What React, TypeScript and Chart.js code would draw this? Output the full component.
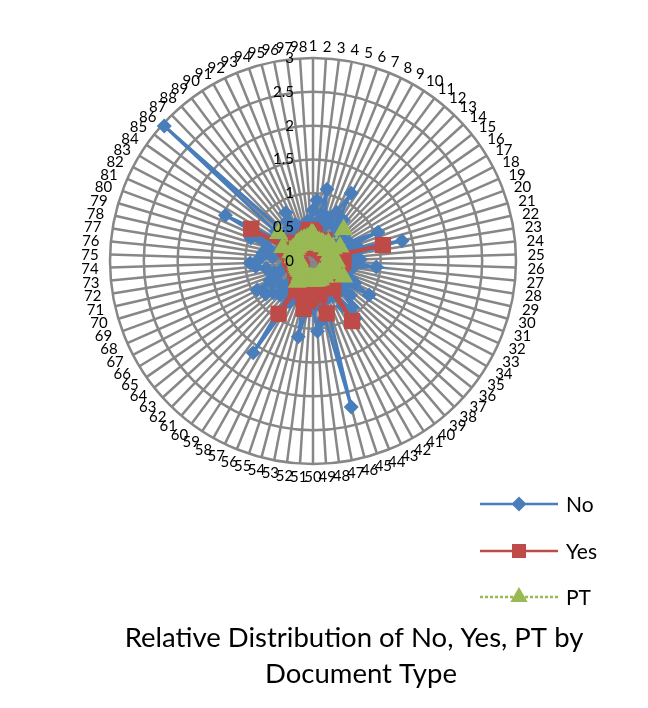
import React, { useEffect, useRef } from 'react';
import { Chart, registerables } from 'chart.js';

Chart.register(...registerables);

const categories = [
  '1', '2', '3', '4', '5', '6', '7', '8', '9', '10',
  '11', '12', '13', '14', '15', '16', '17', '18', '19', '20',
  '21', '22', '23', '24', '25', '26', '27', '28', '29', '30',
  '31', '32', '33', '34', '35', '36', '37', '38', '39', '40',
  '41', '42', '43', '44', '45', '46', '47', '48', '49', '50',
  '51', '52', '53', '54', '55', '56', '57', '58', '59', '60',
  '61', '62', '63', '64', '65', '66', '67', '68', '69', '70',
  '71', '72', '73', '74', '75', '76', '77', '78', '79', '80',
  '81', '82', '83', '84', '85', '86', '87', '88', '89', '90',
  '91', '92', '93', '94', '95', '96', '97', '98',
];

const noValues = [
  0.75, 0.9, 0.6, 1.08, 0.7, 0.55, 0.65, 0.8, 1.15, 0.6,
  0.75, 0.5, 0.62, 0.45, 0.55, 0.4, 0.5, 0.6, 1.05, 0.5,
  0.7, 1.35, 0.6, 0.45, 0.7, 0.55, 0.94, 0.6, 0.45, 0.5,
  0.4, 0.55, 0.7, 0.97, 0.6, 0.55, 0.75, 0.6, 0.9, 1.05,
  0.8, 0.6, 0.5, 0.45, 0.6, 2.23, 0.7, 0.9, 1.04, 0.7,
  0.6, 0.75, 1.14, 0.6, 0.5, 0.6, 0.45, 0.7, 1.62, 0.6,
  0.55, 0.7, 0.5, 0.75, 0.85, 0.6, 0.93, 0.7, 0.55, 0.6,
  0.45, 0.7, 0.85, 0.93, 0.8, 0.6, 0.75, 0.55, 0.7, 0.98,
  0.75, 1.46, 0.6, 0.5, 0.7, 2.97, 0.55, 0.5, 0.6, 0.7,
  0.82, 0.6, 0.5, 0.45, 0.55, 0.4, 0.6, 0.5,
];

const yesValues = [
  0.42, 0.4, 0.3, 0.3, 0.2, 0.25, 0.2, 0.3, 0.35, 0.2,
  0.25, 0.2, 0.3, 0.2, 0.25, 0.2, 0.3, 0.25, 0.35, 0.2,
  0.3, 1.06, 0.3, 0.42, 0.4, 0.45, 0.42, 0.4, 0.3, 0.35,
  0.3, 0.25, 0.3, 0.35, 0.3, 0.25, 0.3, 0.35, 0.4, 0.5,
  1.06, 0.4, 0.3, 0.35, 0.4, 0.8, 0.5, 0.45, 0.5, 0.5,
  0.55, 0.6, 0.72, 0.55, 0.4, 0.35, 0.4, 0.5, 0.93, 0.4,
  0.3, 0.25, 0.3, 0.25, 0.2, 0.25, 0.3, 0.2, 0.25, 0.2,
  0.25, 0.3, 0.25, 0.3, 0.3, 0.34, 0.3, 0.25, 0.3, 0.4,
  0.45, 1.03, 0.4, 0.35, 0.3, 0.4, 0.3, 0.25, 0.3, 0.25,
  0.3, 0.3, 0.35, 0.3, 0.35, 0.4, 0.46, 0.46,
];

const ptValues = [
  0.4, 0.35, 0.3, 0.3, 0.25, 0.3, 0.25, 0.3, 0.3, 0.25,
  0.3, 0.35, 0.65, 0.3, 0.25, 0.3, 0.35, 0.45, 0.3, 0.25,
  0.3, 0.3, 0.25, 0.3, 0.3, 0.35, 0.3, 0.25, 0.3, 0.3,
  0.35, 0.3, 0.51, 0.3, 0.25, 0.3, 0.25, 0.2, 0.25, 0.3,
  0.25, 0.2, 0.25, 0.3, 0.25, 0.3, 0.25, 0.3, 0.25, 0.3,
  0.25, 0.3, 0.25, 0.3, 0.25, 0.3, 0.3, 0.3, 0.3, 0.39,
  0.3, 0.25, 0.2, 0.25, 0.2, 0.25, 0.2, 0.25, 0.2, 0.25,
  0.2, 0.25, 0.2, 0.25, 0.2, 0.25, 0.3, 0.25, 0.3, 0.35,
  0.49, 0.3, 0.35, 0.3, 0.65, 0.3, 0.35, 0.3, 0.35, 0.3,
  0.35, 0.3, 0.35, 0.3, 0.35, 0.3, 0.35, 0.4,
];

const seriesNames = ['No', 'Yes', 'PT'];
const seriesColors = ['#4A7EBB', '#BE4B48', '#98B954'];
const seriesMarkers = ['rectRot', 'rect', 'triangle'];
const titleLines = ['Relative Distribution of No, Yes, PT by', 'Document Type'];

const FONT = 'Lato, "Open Sans", sans-serif';

function drawMarker(ctx: CanvasRenderingContext2D, kind: string, x: number, y: number, color: string) {
  ctx.fillStyle = color;
  ctx.beginPath();
  if (kind === 'rectRot') {
    const r = 7.5;
    ctx.moveTo(x, y - r);
    ctx.lineTo(x + r, y);
    ctx.lineTo(x, y + r);
    ctx.lineTo(x - r, y);
  } else if (kind === 'rect') {
    const h = 7;
    ctx.rect(x - h, y - h, 2 * h, 2 * h);
  } else {
    const r = 10;
    ctx.moveTo(x, y - r);
    ctx.lineTo(x + r * 0.866, y + r * 0.5);
    ctx.lineTo(x - r * 0.866, y + r * 0.5);
  }
  ctx.closePath();
  ctx.fill();
}

function fmtTick(v: number) {
  return String(Math.round(v * 10) / 10);
}

const excelDecor = {
  id: 'excelDecor',
  afterDatasetsDraw(chart: any) {
    const ctx: CanvasRenderingContext2D = chart.ctx;
    const s = chart.scales.r;
    ctx.save();
    ctx.fillStyle = '#000';
    ctx.font = `15px ${FONT}`;
    // radial tick labels, left of the vertical axis
    ctx.textAlign = 'right';
    ctx.textBaseline = 'middle';
    s.ticks.forEach((t: any) => {
      const d = s.getDistanceFromCenterForValue(t.value);
      ctx.fillText(fmtTick(t.value), s.xCenter - 19, s.yCenter - d);
    });
    // category labels around the circle
    ctx.textAlign = 'center';
    const R = s.drawingArea;
    chart.data.labels.forEach((lab: string, i: number) => {
      const a = s.getIndexAngle(i);
      const p = s.getPointPosition(i, R + 7.5);
      const w = ctx.measureText(lab).width;
      const x = p.x + Math.sin(a) * (w / 2 + 4);
      const y = p.y - Math.cos(a) * 5;
      ctx.fillText(lab, x, y + 1);
    });
    ctx.restore();
  },
  afterDraw(chart: any) {
    const ctx: CanvasRenderingContext2D = chart.ctx;
    ctx.save();
    // legend
    const ys = [504, 551, 597];
    chart.data.datasets.forEach((ds: any, i: number) => {
      const y = ys[i];
      ctx.strokeStyle = ds.borderColor;
      ctx.lineWidth = 2.5;
      ctx.setLineDash(ds.borderDash || []);
      ctx.beginPath();
      ctx.moveTo(480, y);
      ctx.lineTo(558, y);
      ctx.stroke();
      ctx.setLineDash([]);
      drawMarker(ctx, seriesMarkers[i], 519, y, ds.pointBackgroundColor);
      ctx.fillStyle = '#000';
      ctx.font = `21px ${FONT}`;
      ctx.textAlign = 'left';
      ctx.textBaseline = 'middle';
      ctx.fillText(ds.label, 566, y + 1);
    });
    // title
    ctx.fillStyle = '#000';
    ctx.font = `27.5px ${FONT}`;
    ctx.textAlign = 'center';
    ctx.textBaseline = 'alphabetic';
    ctx.fillText(titleLines[0], 354, 647);
    ctx.fillText(titleLines[1], 361, 683);
    ctx.restore();
  },
};

export default function App() {
  const ref = useRef<HTMLCanvasElement | null>(null);
  useEffect(() => {
    document.body.style.margin = '0';
    const canvas = ref.current;
    if (!canvas) return;
    const values = [noValues, yesValues, ptValues];
    const chart = new Chart(canvas, {
      type: 'radar',
      data: {
        labels: categories,
        datasets: seriesNames.map((name, i) => ({
          label: name,
          data: values[i],
          borderColor: seriesColors[i],
          backgroundColor: seriesColors[i],
          pointBackgroundColor: seriesColors[i],
          pointBorderColor: seriesColors[i],
          pointBorderWidth: 0,
          pointStyle: seriesMarkers[i] as any,
          pointRadius: i === 0 ? 7.5 : i === 1 ? 11.5 : 11,
          borderWidth: i === 2 ? 2.5 : 3,
          borderDash: i === 2 ? [3, 2] : [],
          fill: false,
          order: 3 - i,
        })),
      },
      options: {
        responsive: false,
        animation: false,
        layout: { padding: { left: 110, right: 131.5, top: 57.5, bottom: 243.5 } },
        plugins: { legend: { display: false }, title: { display: false }, tooltip: { enabled: false } },
        scales: {
          r: {
            min: 0,
            max: 3,
            ticks: { stepSize: 0.5, display: false },
            grid: { circular: true, color: '#878787', lineWidth: 2.5 },
            angleLines: { color: '#878787', lineWidth: 2.5 },
            pointLabels: { display: false },
          },
        },
      },
      plugins: [excelDecor],
    });
    return () => chart.destroy();
  }, []);
  return (
    <div style={{ width: 648, height: 708 }}>
      <canvas ref={ref} width={648} height={708} style={{ display: 'block' }} />
    </div>
  );
}
